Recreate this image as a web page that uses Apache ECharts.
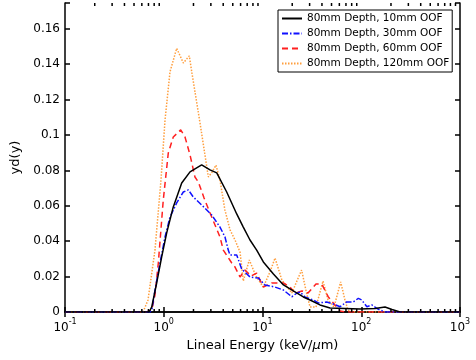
<!DOCTYPE html>
<html>
<head>
<meta charset="utf-8">
<script src="https://cdn.jsdelivr.net/npm/echarts@6/dist/echarts.min.js"></script>
<style>html,body{margin:0;padding:0;background:#fff;}#c{width:476px;height:360px;}</style>
</head>
<body>
<div id="c"></div>
<script>
// Legend names
const seriesNames = ['80mm Depth, 10mm OOF', '80mm Depth, 30mm OOF', '80mm Depth, 60mm OOF', '80mm Depth, 120mm OOF'];

// [lineal energy (keV/um), yd(y)]
const oof10 = [[0.1,0],[0.71,0],[0.755,0.0028],[0.848,0.0164],[0.953,0.0311],[1.071,0.0447],[1.249,0.0594],[1.52,0.0729],[1.845,0.0792],[2.42,0.0831],[2.94,0.0803],[3.44,0.0786],[4.34,0.0678],[5.48,0.0554],[6.39,0.048],[7.47,0.0407],[8.73,0.035],[10.2,0.0283],[12.9,0.0215],[16.3,0.0153],[20.5,0.0119],[25.9,0.0085],[30.3,0.0068],[38.2,0.004],[48.3,0.0023],[68.4,0.002],[97.1,0.0017],[138,0.002],[174,0.0028],[205,0.0014],[247,0],[1000,0]];

const oof30 = [[0.1,0],[0.726,0],[0.76,0.0017],[0.815,0.0124],[0.916,0.0277],[1.03,0.0424],[1.157,0.0537],[1.352,0.0616],[1.578,0.0678],[1.773,0.069],[1.99,0.065],[2.42,0.0605],[3.06,0.0548],[3.71,0.048],[4.17,0.0424],[4.5,0.035],[4.69,0.0322],[5.48,0.0322],[6.15,0.0243],[7.47,0.0198],[9.06,0.0192],[10.6,0.0153],[13.4,0.0141],[16.3,0.0124],[19.8,0.0086],[22.2,0.0106],[24.0,0.0113],[26.9,0.0085],[32.7,0.0068],[36.7,0.0051],[44.7,0.0057],[52.1,0.0045],[61.0,0.003],[71.2,0.0057],[83.0,0.0057],[93.4,0.0077],[101,0.0068],[114,0.003],[128,0.004],[143,0.0021],[155,0.0011],[174,0],[1000,0]];

const oof60 = [[0.1,0],[0.664,0],[0.755,0.0011],[0.815,0.0096],[0.881,0.0277],[0.989,0.0633],[1.112,0.0899],[1.249,0.0989],[1.485,0.1029],[1.641,0.0989],[1.845,0.0888],[2.07,0.0763],[2.24,0.0735],[2.56,0.0644],[2.94,0.056],[3.71,0.0424],[4.01,0.035],[4.88,0.0277],[5.27,0.0254],[5.92,0.0198],[6.65,0.0237],[7.65,0.0203],[8.73,0.022],[10.2,0.0141],[12.4,0.0164],[16.3,0.0164],[19.0,0.0141],[21.3,0.0107],[25.1,0.0119],[28.9,0.0107],[34.8,0.0158],[39.8,0.0158],[46.4,0.0085],[54.2,0.004],[61.0,0.0006],[70,0],[1000,0]];

const oof120 = [[0.1,0],[0.618,0],[0.693,0.0068],[0.815,0.035],[0.938,0.0746],[1.03,0.1085],[1.157,0.1357],[1.352,0.149],[1.578,0.1407],[1.814,0.1447],[1.93,0.135],[2.33,0.1068],[2.83,0.0763],[3.08,0.079],[3.38,0.083],[3.71,0.0746],[4.16,0.0577],[4.69,0.0464],[5.27,0.0407],[5.92,0.0339],[6.39,0.0175],[7.35,0.0294],[8.59,0.0203],[10.2,0.0141],[11.9,0.0226],[13.4,0.0305],[15.7,0.0181],[19.8,0.0107],[24.9,0.0237],[27.5,0.0124],[30.3,0.0028],[34.8,0.0028],[41.0,0.0175],[46.1,0.0068],[53.0,0.0028],[61.9,0.017],[68.4,0.0068],[73.4,0.001],[86.5,0],[1000,0]];

// Minor tick positions on the log axis
const minorTicks = [0.2,0.3,0.4,0.5,0.6,0.7,0.8,0.9,2,3,4,5,6,7,8,9,20,30,40,50,60,70,80,90,200,300,400,500,600,700,800,900];

const xMin = 0.1, xMax = 1000, yMin = 0, yMax = 0.1746, yStep = 0.02;

const chart = echarts.init(document.getElementById('c'));
const font = 'DejaVu Sans';
const axisLineStyle = {color: '#000', width: 1.5};

chart.setOption({
  animation: false,
  backgroundColor: '#fff',
  grid: {left: 65, right: 16, top: 3, bottom: 48},
  legend: {
    orient: 'vertical',
    left: 278, top: 10,
    itemWidth: 20, itemHeight: 10, itemGap: 4,
    padding: [3, 3, 3, 3],
    borderColor: '#000', borderWidth: 1,
    backgroundColor: '#fff',
    itemStyle: {opacity: 0},
    textStyle: {fontFamily: font, fontSize: 10.5, color: '#000'},
    data: seriesNames
  },
  xAxis: [{
    type: 'log', logBase: 10, min: xMin, max: xMax,
    name: 'Lineal Energy (keV/{i|μ}m)', nameLocation: 'middle', nameGap: 27,
    nameTextStyle: {fontFamily: font, fontSize: 13, color: '#000', rich: {i: {fontFamily: font, fontSize: 13, fontStyle: 'italic', color: '#000'}}},
    axisLine: {lineStyle: axisLineStyle},
    axisTick: {inside: true, length: 5, lineStyle: axisLineStyle},
    splitLine: {show: false},
    axisLabel: {
      margin: 6,
      formatter: v => '{b|10}{s|' + Math.round(Math.log10(v)) + '}',
      rich: {
        b: {fontFamily: font, fontSize: 12, color: '#000', lineHeight: 16, verticalAlign: 'bottom'},
        s: {fontFamily: font, fontSize: 8, color: '#000', lineHeight: 16, verticalAlign: 'top'}
      }
    }
  }, {
    type: 'log', logBase: 10, min: xMin, max: xMax, position: 'top',
    axisLine: {lineStyle: axisLineStyle},
    axisTick: {inside: true, length: 5, lineStyle: axisLineStyle},
    axisLabel: {show: false}, splitLine: {show: false}
  }],
  yAxis: [{
    type: 'value', min: yMin, max: yMax, interval: yStep,
    name: 'yd(y)', nameLocation: 'middle', nameGap: 42,
    nameTextStyle: {fontFamily: font, fontSize: 13, color: '#000'},
    axisLine: {show: true, lineStyle: axisLineStyle},
    axisTick: {show: true, inside: true, length: 5, lineStyle: axisLineStyle},
    splitLine: {show: false},
    axisLabel: {
      margin: 5, fontFamily: font, fontSize: 12, color: '#000',
      formatter: v => v > yMax - 0.005 ? '' : (v === 0 ? '0' : String(+v.toFixed(2)))
    }
  }, {
    type: 'value', min: yMin, max: yMax, interval: yStep, position: 'right',
    axisLine: {show: true, lineStyle: axisLineStyle},
    axisTick: {show: true, inside: true, length: 5, lineStyle: axisLineStyle},
    axisLabel: {show: false}, splitLine: {show: false}
  }],
  series: [
    {name: seriesNames[3], type: 'line', data: oof120, symbol: 'none', showSymbol: false, z: 2,
     lineStyle: {color: '#FF9E3D', width: 1.5, type: [1.5, 1.5]}, itemStyle: {color: '#FF9E3D'}},
    {name: seriesNames[2], type: 'line', data: oof60, symbol: 'none', showSymbol: false, z: 3,
     lineStyle: {color: '#FF2020', width: 1.5, type: [6, 4]}, itemStyle: {color: '#FF2020'}},
    {name: seriesNames[1], type: 'line', data: oof30, symbol: 'none', showSymbol: false, z: 4,
     lineStyle: {color: '#1010FF', width: 1.5, type: [6, 2, 1.5, 2]}, itemStyle: {color: '#1010FF'}},
    {name: seriesNames[0], type: 'line', data: oof10, symbol: 'none', showSymbol: false, z: 5,
     lineStyle: {color: '#000', width: 1.5, type: 'solid'}, itemStyle: {color: '#000'}},
    {
      type: 'custom', silent: true, z: 10,
      data: minorTicks.map(v => [v]),
      encode: {x: 0},
      renderItem: (params, api) => {
        const x = api.value(0);
        const b = api.coord([x, yMin]);
        const t = api.coord([x, yMax]);
        return {
          type: 'group',
          children: [
            {type: 'line', shape: {x1: b[0], y1: b[1], x2: b[0], y2: b[1] - 3}, style: {stroke: '#000', lineWidth: 1.5}},
            {type: 'line', shape: {x1: t[0], y1: t[1], x2: t[0], y2: t[1] + 3}, style: {stroke: '#000', lineWidth: 1.5}}
          ]
        };
      }
    }
  ]
});
</script>
</body>
</html>
